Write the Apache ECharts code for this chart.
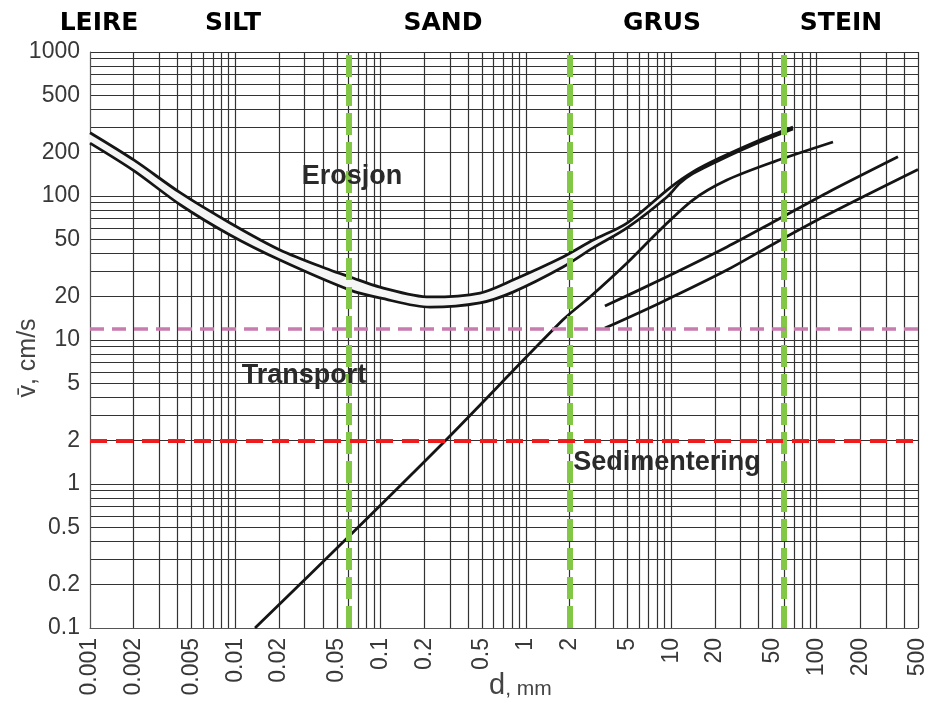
<!DOCTYPE html>
<html>
<head>
<meta charset="utf-8">
<script src="https://cdn.jsdelivr.net/npm/echarts@6/dist/echarts.min.js"></script>
<style>
html,body{margin:0;padding:0;background:#fff;}
#chart{width:932px;height:703px;}
</style>
</head>
<body>
<div id="chart"></div>
<script>
// ---- data (d in mm, v in cm/s) ----
const xTickLabels = [0.001,0.002,0.005,0.01,0.02,0.05,0.1,0.2,0.5,1,2,5,10,20,50,100,200,500];
const yTickLabels = [0.1,0.2,0.5,1,2,5,10,20,50,100,200,500,1000];
const zoneNames = ['LEIRE','SILT','SAND','GRUS','STEIN'];
const zoneBoundaries = [0.002, 0.06, 2, 60];
const transportLimit = 12;   // pink dashed
const sedimentLimit = 2;     // red dashed

const erosionUpper = [[0.001,275],[0.002,178],[0.0042,105],[0.0092,65],[0.0203,42.2],[0.0449,30.6],[0.0616,27.4],[0.099,23.3],[0.219,19.9],[0.483,21.2],[0.815,26.1],[1.8,37.7],[2.9,49.4],[4.97,64.9],[9.8,114],[14.1,147],[21.7,184],[40.8,245],[69,301]];
const erosionLower = [[0.001,233],[0.002,150],[0.0042,86.6],[0.0092,53.6],[0.0203,35.9],[0.0616,22.2],[0.099,19.6],[0.219,16.9],[0.483,18.1],[0.815,21.5],[1.8,32.1],[2.9,43.6],[4.97,60],[9.36,98.4],[11.5,123],[14.1,143],[21.7,178],[40.8,237],[69,292]];
const settlingLine = [[0.01367,0.1],[0.0587,0.42],[0.2776,1.99],[1.8,13.8],[2.76,19.9],[4.97,34.3],[8.38,58.1],[14.1,93.8],[24.2,129],[50.2,172],[130,237]];
const gravelLineA = [[3.5,17.2],[8.38,26.1],[24.2,44.3],[53.5,68.1],[118,105],[364,187]];
const gravelLineB = [[3.5,12.1],[8.38,18.1],[24.2,30.6],[53.5,48],[118,73.8],[500,153]];

// grid multiples 1..9 per decade
function gridValues(lo, hi){
  const out=[];
  for(let e=Math.round(Math.log10(lo)); e<=Math.round(Math.log10(hi)); e++){
    for(let m=1;m<=9;m++){
      const v = Number((m*Math.pow(10,e)).toPrecision(6));
      if(v>=lo-1e-12 && v<=hi+1e-9) out.push(v);
    }
  }
  return out;
}
const xGrid = gridValues(0.001, 500);
const yGrid = gridValues(0.1, 1000);

const fmt = v => String(Number(Number(v).toPrecision(6)));
const labelFont = '"Liberation Sans", Arial, sans-serif';
const headFont = 'bold 25px "DejaVu Sans", "Liberation Sans", Arial, sans-serif';
const regionFont = 'bold 27px "Liberation Sans", Arial, sans-serif';

const chart = echarts.init(document.getElementById('chart'), null, {renderer:'canvas'});

const curveStyle = {color:'#151515', width:2.8};
function curve(name, data){
  return {name, type:'line', data, showSymbol:false, symbol:'none', smooth:0.3,
          lineStyle:curveStyle, z:4, silent:true, animation:false};
}

const option = {
  animation:false,
  backgroundColor:'#ffffff',
  grid:{left:90, right:14, top:52, bottom:75, show:false},
  xAxis:{
    type:'log', logBase:10, min:0.001, max:500,
    axisLine:{show:true, lineStyle:{color:'#555', width:1}},
    axisTick:{show:false, customValues:xGrid},
    splitLine:{show:true, lineStyle:{color:'#333', width:1.2}},
    minorSplitLine:{show:false},
    axisLabel:{customValues:xTickLabels, rotate:90, margin:10, formatter:fmt,
      fontSize:23, color:'#383838', fontFamily:labelFont}
  },
  yAxis:{
    type:'log', logBase:10, min:0.1, max:1000,
    axisLine:{show:true, lineStyle:{color:'#555', width:1}},
    axisTick:{show:false, customValues:yGrid},
    splitLine:{show:true, lineStyle:{color:'#333', width:1.2}},
    axisLabel:{customValues:yTickLabels, margin:10, formatter:fmt,
      fontSize:23, color:'#383838', fontFamily:labelFont}
  },
  graphic:[
    ...zoneNames.map((t,i)=>({type:'text', x:[99,233,443,662,841][i], y:23,
      style:{text:t, textAlign:'center', textVerticalAlign:'middle', font:headFont, fill:'#000'}})),
    {type:'text', x:352, y:177, z:10, style:{text:'Erosjon', textAlign:'center', textVerticalAlign:'middle', font:regionFont, fill:'#2a2a2a'}},
    {type:'text', x:304, y:376, z:10, style:{text:'Transport', textAlign:'center', textVerticalAlign:'middle', font:regionFont, fill:'#2a2a2a'}},
    {type:'text', x:667, y:463, z:10, style:{text:'Sedimentering', textAlign:'center', textVerticalAlign:'middle', font:regionFont, fill:'#2a2a2a'}},
    {type:'text', x:28, y:358, rotation:Math.PI/2, style:{text:'v\u0304, cm/s', textAlign:'center', textVerticalAlign:'middle', font:'25px "Liberation Sans", Arial, sans-serif', fill:'#444'}},
    {type:'text', x:489, y:686, style:{text:'{d|d}{u|, mm}', textVerticalAlign:'middle',
      rich:{d:{fontSize:29, fontFamily:labelFont, fill:'#444'}, u:{fontSize:21, fontFamily:labelFont, fill:'#444', padding:[6,0,0,0]}}}}
  ],
  series:[
    {
      name:'band', type:'custom', silent:true, z:3,
      data:[erosionUpper[0]],
      renderItem:function(params, api){
        const pts = erosionUpper.map(p=>api.coord(p)).concat(erosionLower.slice().reverse().map(p=>api.coord(p)));
        return {type:'polygon', shape:{points:pts, smooth:0.3}, style:{fill:'#f5f5f5', stroke:null}};
      }
    },
    curve('Erosjon øvre', erosionUpper),
    curve('Erosjon nedre', erosionLower),
    curve('Sedimentering', settlingLine),
    curve('Grus A', gravelLineA),
    curve('Grus B', gravelLineB),
    {
      name:'grenser', type:'line', data:[], z:8, silent:true,
      markLine:{silent:true, symbol:'none', label:{show:false}, animation:false,
        data:[
          ...zoneBoundaries.map(v=>({xAxis:v, lineStyle:{color:'#82C846', width:6, type:[22,7]}})),
          {yAxis:transportLimit, lineStyle:{color:'#C77BAE', width:3.5, type:[14,8]}},
          {yAxis:sedimentLimit, lineStyle:{color:'#EE1C1C', width:4, type:[17,9]}}
        ]}
    }
  ]
};
chart.setOption(option);
</script>
</body>
</html>
